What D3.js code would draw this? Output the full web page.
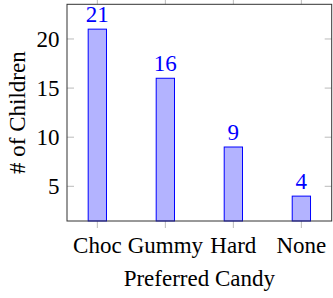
<!DOCTYPE html>
<html><head><meta charset="utf-8">
<script src="https://cdn.jsdelivr.net/npm/d3@7"></script>
<style>body{margin:0;background:#fff}svg{display:block}</style>
</head><body><svg id="c" width="333" height="298"></svg>
<script>
const categories = ["Choc","Gummy","Hard","None"];
const values = [21,16,9,4];
const yTicks = [5,10,15,20];
const xLabel = "Preferred Candy";
const yLabel = "# of Children";

const FONT = "'Liberation Serif','Times New Roman',Times,'DejaVu Serif',serif";
const svg = d3.select("#c").style("font-family", FONT);
const L=67, R=331.7, T=4.3, B=221;
const x = d3.scaleLinear().domain([-0.446, categories.length-1+0.446]).range([L,R]);
const y = d3.scaleLinear().domain([1.467,23.53]).range([B,T]);
const bw = 18.3;
const fs = 23;

const g = svg.append("g");
yTicks.forEach(v=>{
  g.append("line").attr("x1",L).attr("x2",L+7).attr("y1",y(v)).attr("y2",y(v)).attr("stroke","#bbb").attr("stroke-width",1);
  g.append("line").attr("x1",R-7).attr("x2",R).attr("y1",y(v)).attr("y2",y(v)).attr("stroke","#bbb").attr("stroke-width",1);
  g.append("text").attr("x",L-7.5).attr("y",y(v)+8).attr("text-anchor","end").attr("font-size",fs).attr("font-family",FONT).attr("fill","#000").text(v);
});
categories.forEach((c,i)=>{
  g.append("line").attr("x1",x(i)).attr("x2",x(i)).attr("y1",B).attr("y2",B+7).attr("stroke","#bbb");
  g.append("line").attr("x1",x(i)).attr("x2",x(i)).attr("y1",T-5).attr("y2",T).attr("stroke","#bbb");
  g.append("text").attr("x",x(i)).attr("y",253).attr("text-anchor","middle").attr("font-size",fs).attr("font-family",FONT).text(c);
});

svg.append("g").selectAll("rect").data(values).join("rect")
  .attr("x",(d,i)=>x(i)-bw/2).attr("width",bw)
  .attr("y",d=>y(d)).attr("height",d=>B-y(d))
  .attr("fill","rgb(179,179,255)").attr("stroke","blue").attr("stroke-width",1);

svg.append("g").selectAll("text").data(values).join("text")
  .attr("x",(d,i)=>x(i)).attr("y",d=>y(d)-7).attr("text-anchor","middle")
  .attr("font-size",fs).attr("font-family",FONT).attr("fill","blue").text(d=>d);

svg.append("rect").attr("x",L).attr("y",T).attr("width",R-L).attr("height",B-T)
  .attr("fill","none").attr("stroke","#333").attr("stroke-width",1);

svg.append("text").attr("x",(L+R)/2).attr("y",286).attr("text-anchor","middle").attr("font-size",fs).attr("font-family",FONT).text(xLabel);
svg.append("text").attr("transform",`translate(25,${(T+B)/2}) rotate(-90)`).attr("text-anchor","middle").attr("font-size",fs).attr("font-family",FONT).text(yLabel);
</script></body></html>
